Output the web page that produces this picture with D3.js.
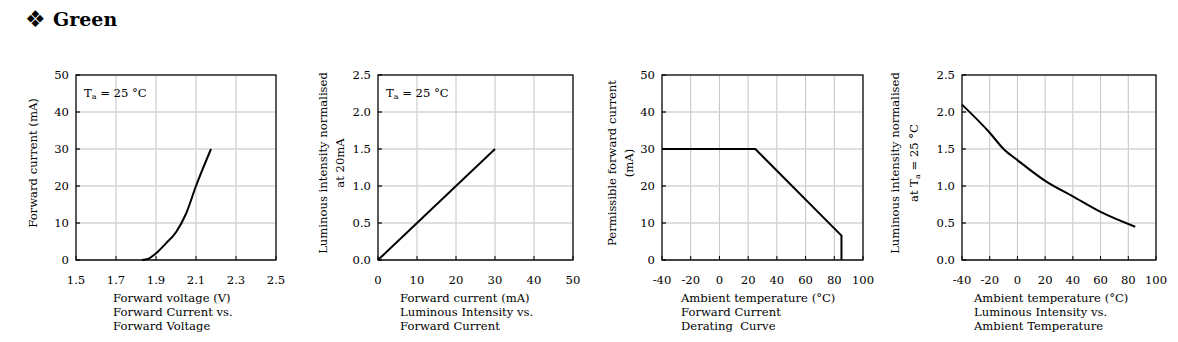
<!DOCTYPE html>
<html>
<head>
<meta charset="utf-8">
<script src="https://cdn.jsdelivr.net/npm/d3@7"></script>
<style>
  body { margin: 0; background: #fff; }
  svg text { font-family: "DejaVu Serif", "Liberation Serif", serif; fill: #000; }
</style>
</head>
<body>
<script>
// --- data ---
var vfTicks = [1.5, 1.7, 1.9, 2.1, 2.3, 2.5];
var ifTicks = [0, 10, 20, 30, 40, 50];
var vfVoltage = [1.83, 1.86, 1.90, 1.95, 2.00, 2.05, 2.10, 2.175];
var vfCurrent = [0, 0.3, 1.8, 4.5, 7.5, 12.5, 20, 30];

var ivTicksY = [0.0, 0.5, 1.0, 1.5, 2.0, 2.5];
var ivCurrent = [0, 30];
var ivIntensity = [0, 1.5];

var tempTicks = [-40, -20, 0, 20, 40, 60, 80, 100];
var derTemp = [-40, 25, 85, 85];
var derCurrent = [30, 30, 6.6, 0];

var itTemp = [-40, -20, -10, 0, 20, 40, 60, 85];
var itIntensity = [2.1, 1.72, 1.5, 1.35, 1.07, 0.86, 0.65, 0.45];

var W = 1178, H = 342;
var svg = d3.select("body").append("svg").attr("width", W).attr("height", H);

// title
var title = svg.append("text").attr("x", 25).attr("y", 26)
  .style("font-size", "19px").style("font-weight", "bold");
title.append("tspan").style("font-family", "'DejaVu Sans'").style("font-size", "23px").attr("dy", 1).text("\u2756");
title.append("tspan").attr("x", 53).attr("dy", -1).text("Green");

var fs = "11.6px";
var plotTop = 75, plotBottom = 260;
var intFmt = function(d) { return String(d); };   // plain hyphen for negatives
var oneDec = d3.format(".1f");

var charts = [
  { left: 76, right: 276, xdom: [1.5, 2.5], ydom: [0, 50], xt: vfTicks, yt: ifTicks,
    xfmt: oneDec, yfmt: intFmt, curve: d3.curveMonotoneX,
    xs: vfVoltage, ys: vfCurrent,
    ylab: ["Forward current (mA)"], ylabX: [33],
    xlab: ["Forward voltage (V)", "Forward Current vs.", "Forward Voltage"], xlabX: 113,
    ta: true },
  { left: 378, right: 573, xdom: [0, 50], ydom: [0, 2.5], xt: ifTicks, yt: ivTicksY,
    xfmt: intFmt, yfmt: oneDec, curve: d3.curveLinear,
    xs: ivCurrent, ys: ivIntensity,
    ylab: ["Luminous intensity normalised", "at 20mA"], ylabX: [323, 340],
    xlab: ["Forward current (mA)", "Luminous Intensity vs.", "Forward Current"], xlabX: 400,
    ta: true },
  { left: 662, right: 863, xdom: [-40, 100], ydom: [0, 50], xt: tempTicks, yt: ifTicks,
    xfmt: intFmt, yfmt: intFmt, curve: d3.curveLinear,
    xs: derTemp, ys: derCurrent,
    ylab: ["Permissible forward current", "(mA)"], ylabX: [612, 629],
    xlab: ["Ambient temperature (\u00b0C)", "Forward Current", "Derating  Curve"], xlabX: 681,
    ta: false },
  { left: 962, right: 1156, xdom: [-40, 100], ydom: [0, 2.5], xt: tempTicks, yt: ivTicksY,
    xfmt: intFmt, yfmt: oneDec, curve: d3.curveMonotoneX,
    xs: itTemp, ys: itIntensity,
    ylab: ["Luminous intensity normalised", "at Ta = 25 \u00b0C"], ylabX: [895, 914],
    xlab: ["Ambient temperature (\u00b0C)", "Luminous Intensity vs.", "Ambient Temperature"], xlabX: 974,
    ta: false }
];

// writes "Ta" with a small subscript a, the rest as plain text
function taText(sel, str) {
  var parts = str.split("Ta");
  sel.append("tspan").text(parts[0]);
  if (parts.length > 1) {
    sel.append("tspan").text("T");
    sel.append("tspan").attr("dy", 2).style("font-size", "8px").text("a");
    sel.append("tspan").attr("dy", -2).text(parts[1]);
  }
}

charts.forEach(function(c) {
  var x = d3.scaleLinear().domain(c.xdom).range([c.left, c.right]);
  var y = d3.scaleLinear().domain(c.ydom).range([plotBottom, plotTop]);
  var g = svg.append("g");

  // grid
  g.selectAll(".vg").data(c.xt).enter().append("line")
    .attr("x1", function(d) { return x(d); }).attr("x2", function(d) { return x(d); })
    .attr("y1", plotTop).attr("y2", plotBottom)
    .style("stroke", "#c4c4c4").style("stroke-width", 1);
  g.selectAll(".hg").data(c.yt).enter().append("line")
    .attr("x1", c.left).attr("x2", c.right)
    .attr("y1", function(d) { return y(d); }).attr("y2", function(d) { return y(d); })
    .style("stroke", "#d4d4d4").style("stroke-width", 1.6);

  // frame
  g.append("rect").attr("x", c.left).attr("y", plotTop)
    .attr("width", c.right - c.left).attr("height", plotBottom - plotTop)
    .style("fill", "none").style("stroke", "#000").style("stroke-width", 1.2);
  g.append("line").attr("x1", c.left).attr("x2", c.right)
    .attr("y1", plotBottom).attr("y2", plotBottom)
    .style("stroke", "#444").style("stroke-width", 2);

  // little inward tick marks
  g.selectAll(".xtk").data(c.xt).enter().append("line")
    .attr("x1", function(d) { return x(d); }).attr("x2", function(d) { return x(d); })
    .attr("y1", plotBottom).attr("y2", plotBottom - 4)
    .style("stroke", "#000").style("stroke-width", 1);
  g.selectAll(".ytk").data(c.yt).enter().append("line")
    .attr("x1", c.left).attr("x2", c.left + 4)
    .attr("y1", function(d) { return y(d); }).attr("y2", function(d) { return y(d); })
    .style("stroke", "#000").style("stroke-width", 1.2);

  // tick labels
  g.selectAll(".xl").data(c.xt).enter().append("text")
    .attr("x", function(d) { return x(d); }).attr("y", 284)
    .attr("text-anchor", "middle").style("font-size", fs)
    .text(function(d) { return c.xfmt(d); });
  g.selectAll(".yl").data(c.yt).enter().append("text")
    .attr("x", c.left - 7).attr("y", function(d) { return y(d) + 4; })
    .attr("text-anchor", "end").style("font-size", fs)
    .text(function(d) { return c.yfmt(d); });

  // curve
  var pts = c.xs.map(function(v, i) { return [v, c.ys[i]]; });
  g.append("path").datum(pts)
    .attr("d", d3.line().x(function(d) { return x(d[0]); }).y(function(d) { return y(d[1]); })
      .curve(c.curve))
    .style("fill", "none").style("stroke", "#000").style("stroke-width", 2);

  // axis titles
  c.ylab.forEach(function(t, i) {
    var tx = g.append("text")
      .attr("transform", "translate(" + (c.ylabX[i] + 4) + "," + 163 + ") rotate(-90)")
      .attr("text-anchor", "middle").style("font-size", fs);
    taText(tx, t);
  });
  c.xlab.forEach(function(t, i) {
    g.append("text").attr("x", c.xlabX).attr("y", [302, 315.5, 330][i])
      .style("font-size", fs).style("white-space", "pre").text(t);
  });

  if (c.ta) {
    var ta = g.append("text").attr("x", c.left + 8).attr("y", 97).style("font-size", fs);
    taText(ta, "Ta = 25 \u00b0C");
  }
});
</script>
</body>
</html>
